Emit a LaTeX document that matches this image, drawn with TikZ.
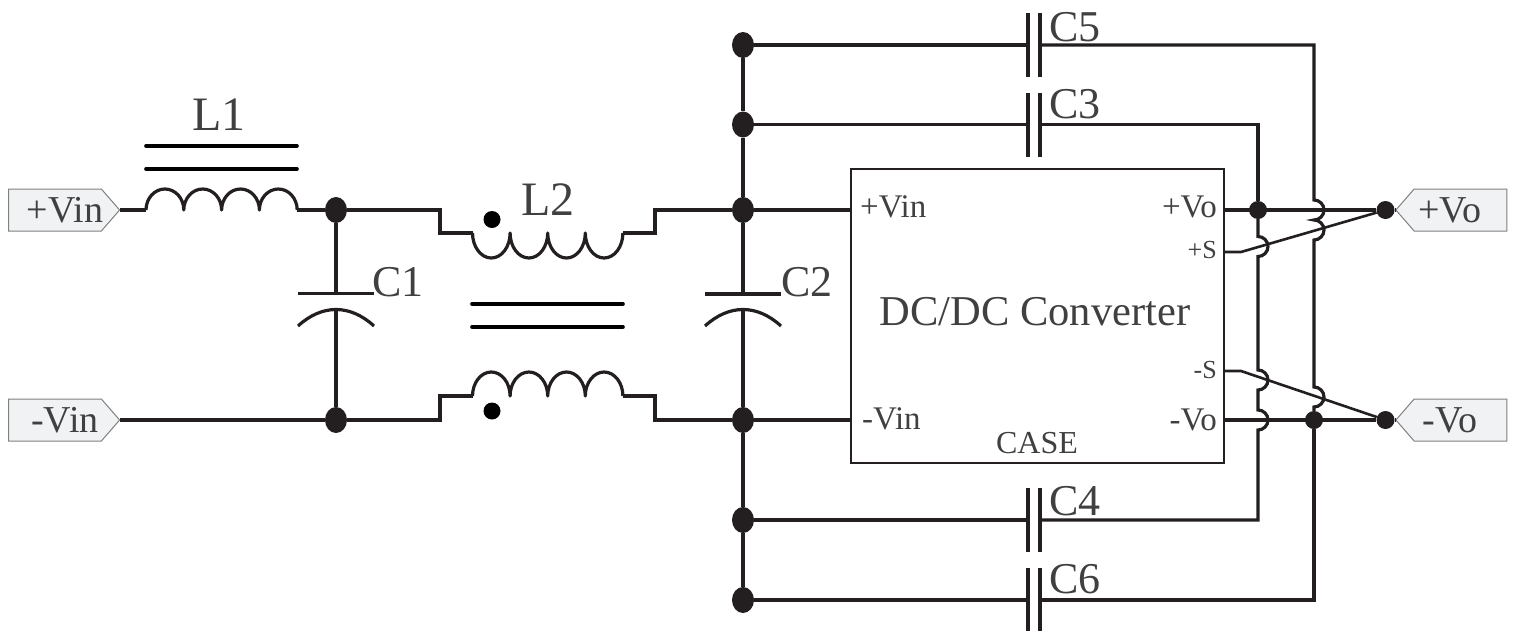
\documentclass[tikz,border=0pt]{standalone}
\usepackage{fontspec}
\setmainfont{Liberation Serif}
\usetikzlibrary{shapes.geometric,shapes.symbols}
\definecolor{wirecol}{HTML}{231F20}
\definecolor{textcol}{HTML}{404040}
\definecolor{tagcol}{HTML}{F0F2F4}
\tikzset{
  wire/.style={draw=wirecol,line width=3.2pt,line join=miter},
  coil/.style={draw=wirecol,line width=3.2pt,line join=round},
  sense/.style={draw=wirecol,line width=2.6pt},
  bar/.style={draw=black,line width=3.6pt,line cap=round},
  junction/.style={ellipse,fill=wirecol,inner sep=0pt,minimum width=22pt,minimum height=26pt},
  smalljunction/.style={circle,fill=wirecol,inner sep=0pt,minimum size=18pt},
  plate/.style={rectangle,fill=wirecol,inner sep=0pt,minimum width=3.4pt,minimum height=64pt},
  hplate/.style={rectangle,fill=wirecol,inner sep=0pt,minimum width=76pt,minimum height=3.4pt},
  tag/.style={signal,signal from=nowhere,draw=gray,fill=tagcol,line width=1pt,inner sep=0pt,
    minimum width=111pt,minimum height=42pt,signal pointer angle=98},
  tagtext/.style={text=textcol,inner sep=0pt,font=\fontsize{38}{42}\selectfont},
  big/.style={text=textcol,inner sep=0pt,font=\fontsize{48}{52}\selectfont},
  caplabel/.style={text=textcol,inner sep=0pt,font=\fontsize{44}{48}\selectfont},
  pin/.style={text=textcol,inner sep=0pt,font=\fontsize{33}{36}\selectfont},
  smallpin/.style={text=textcol,inner sep=0pt,font=\fontsize{26}{30}\selectfont}
}
\begin{document}
\begin{tikzpicture}[x=1pt,y=-1pt]
\useasboundingbox (0,0) rectangle (1513,630);

\node[tag,signal to=east] (vinp) at (55,210) {};
\node[tag,signal to=east] (vinn) at (55,420) {};
\node[tag,signal to=west] (vop) at (1460.5,210) {};
\node[tag,signal to=west] (von) at (1460.5,420) {};
\node[tagtext] (vinptext) at (65,210) {+Vin};
\node[tagtext] (vinntext) at (65,420) {-Vin};
\node[tagtext] (voptext) at (1450,210) {+Vo};
\node[tagtext] (vontext) at (1450,420) {-Vo};

\node[draw=wirecol,line width=1.6pt,inner sep=0pt,minimum width=373pt,minimum height=294pt] (conv) at (1037.5,316) {};
\node[text=textcol,inner sep=0pt,font=\fontsize{42.5}{46}\selectfont] (convname) at (1035,312) {DC/DC Converter};
\node[pin,anchor=west] (pinvinp) at (860,207) {+Vin};
\node[pin,anchor=west] (pinvinn) at (862,419) {-Vin};
\node[pin,anchor=east] (pinvop) at (1217,207) {+Vo};
\node[pin,anchor=east] (pinvon) at (1217,420) {-Vo};
\node[smallpin,anchor=east] (pinsp) at (1217,250) {+S};
\node[smallpin,anchor=east] (pinsn) at (1217,370) {-S};
\node[text=textcol,inner sep=0pt,font=\fontsize{32}{36}\selectfont] (pincase) at (1037,443) {CASE};

\node[junction] (n1) at (336,210) {};
\node[junction] (n2) at (336,420) {};
\node[junction] (n3) at (743,45) {};
\node[junction] (n4) at (743,124.5) {};
\node[junction] (n5) at (743,210) {};
\node[junction] (n6) at (743,420) {};
\node[junction] (n7) at (743,520) {};
\node[junction] (n8) at (743,600) {};
\node[smalljunction] (n9) at (1258,210) {};
\node[smalljunction] (n10) at (1314,420) {};
\node[smalljunction] (n11) at (1385.5,210) {};
\node[smalljunction] (n12) at (1385.5,420) {};

% L1
\coordinate (L1a) at (146,210);
\coordinate (L1b) at (297,210);
\draw[coil] (L1a) foreach \i in {1,...,4} {arc[start angle=180,end angle=0,x radius=18.9pt,y radius=21pt]};
\coordinate (L1c) at (146,146);
\coordinate (L1d) at (297,146);
\coordinate (L1e) at (146,169);
\coordinate (L1f) at (297,169);
\draw[bar] (L1c) -- (L1d);
\draw[bar] (L1e) -- (L1f);
\node[big] (L1) at (219,115) {L1};
\draw[wire] (vinp.east) -- (L1a);
\draw[wire] (L1b) -- (n1);
\draw[wire] (vinn.east) -- (n2);

% L2
\coordinate (L2a) at (472.5,233);
\coordinate (L2b) at (623,233);
\coordinate (L2c) at (472.5,396);
\coordinate (L2d) at (623,396);
\draw[coil] (L2a) foreach \i in {1,...,4} {arc[start angle=180,end angle=360,x radius=18.8pt,y radius=25pt]};
\draw[coil] (L2c) foreach \i in {1,...,4} {arc[start angle=180,end angle=0,x radius=18.8pt,y radius=24pt]};
\draw[wire] (n1) -- (440,210) -- (440,233) -- (L2a);
\draw[wire] (L2b) -- (655,233) -- (655,210) -- (n5);
\draw[wire] (n2) -- (440,420) -- (440,396) -- (L2c);
\draw[wire] (L2d) -- (655,396) -- (655,420) -- (n6);
\coordinate (L2e) at (472,304);
\coordinate (L2f) at (623,304);
\coordinate (L2g) at (472,327);
\coordinate (L2h) at (623,327);
\draw[bar] (L2e) -- (L2f);
\draw[bar] (L2g) -- (L2h);
\node[circle,fill=black,inner sep=0pt,minimum size=17pt] (dot1) at (492,219.5) {};
\node[circle,fill=black,inner sep=0pt,minimum size=17pt] (dot2) at (492,411) {};
\node[big] (L2) at (548,200) {L2};

% C1, C2
\node[hplate] (C1t) at (336,293.5) {};
\coordinate (C1l) at (298,326);
\coordinate (C1r) at (374,326);
\coordinate (C1m) at (336,310);
\draw[wire] (C1l) .. controls (322,304) and (350,304) .. (C1r);
\draw[wire] (n1) -- (C1t);
\draw[wire] (C1m) -- (n2);
\node[caplabel] (C1) at (398,282) {C1};
\node[hplate] (C2t) at (743,294) {};
\coordinate (C2l) at (705,326);
\coordinate (C2r) at (781,326);
\coordinate (C2m) at (743,310);
\draw[wire] (C2l) .. controls (729,304) and (757,304) .. (C2r);
\draw[wire] (n5) -- (C2t);
\draw[wire] (C2m) -- (n6);
\node[caplabel] (C2) at (807,282) {C2};

\draw[wire] (n3) -- (n4);
\draw[wire] (n4) -- (n5);
\draw[wire] (n6) -- (n7);
\draw[wire] (n7) -- (n8);
\draw[wire] (n5) -- (conv.west |- n5);
\draw[wire] (n6) -- (conv.west |- n6);

% C3 to C6
\node[plate] (C5a) at (1028,45) {};
\node[plate] (C5b) at (1040,45) {};
\node[plate] (C3a) at (1028,124.5) {};
\node[plate] (C3b) at (1040,124.5) {};
\node[plate] (C4a) at (1028,520) {};
\node[plate] (C4b) at (1040,520) {};
\node[plate] (C6a) at (1028,600) {};
\node[plate] (C6b) at (1040,600) {};
\node[caplabel] (C5) at (1075,27) {C5};
\node[caplabel] (C3) at (1075,104) {C3};
\node[caplabel] (C4) at (1075,501) {C4};
\node[caplabel] (C6) at (1075,579) {C6};
\draw[wire] (n3) -- (C5a);
\draw[wire] (n4) -- (C3a);
\draw[wire] (n7) -- (C4a);
\draw[wire] (n8) -- (C6a);

\draw[wire] (C3b) -- (1258,124.5) -- (n9);
\draw[wire] (n9) -- (1258,236.5) arc[start angle=90,end angle=-90,radius=10pt] -- (1258,370)
  arc[start angle=90,end angle=-90,radius=10pt] -- (1258,410)
  arc[start angle=90,end angle=-90,radius=10pt] -- (1258,520) -- (C4b);
\draw[wire] (C5b) -- (1314,45) -- (1314,200) arc[start angle=90,end angle=-90,radius=10pt]
  arc[start angle=90,end angle=-90,radius=10pt] -- (1314,387)
  arc[start angle=90,end angle=-90,radius=10pt] -- (n10);
\draw[wire] (n10) -- (1314,600) -- (C6b);

\draw[wire] (conv.east |- n9) -- (n11);
\draw[wire] (conv.east |- n10) -- (n12);
\draw[wire] (n11) -- (vop.west);
\draw[wire] (n12) -- (von.west);
\draw[sense] (conv.east |- 0,252) -- (1241,252) -- (n11);
\draw[sense] (conv.east |- 0,371) -- (1241,371) -- (n12);
\end{tikzpicture}
\end{document}
